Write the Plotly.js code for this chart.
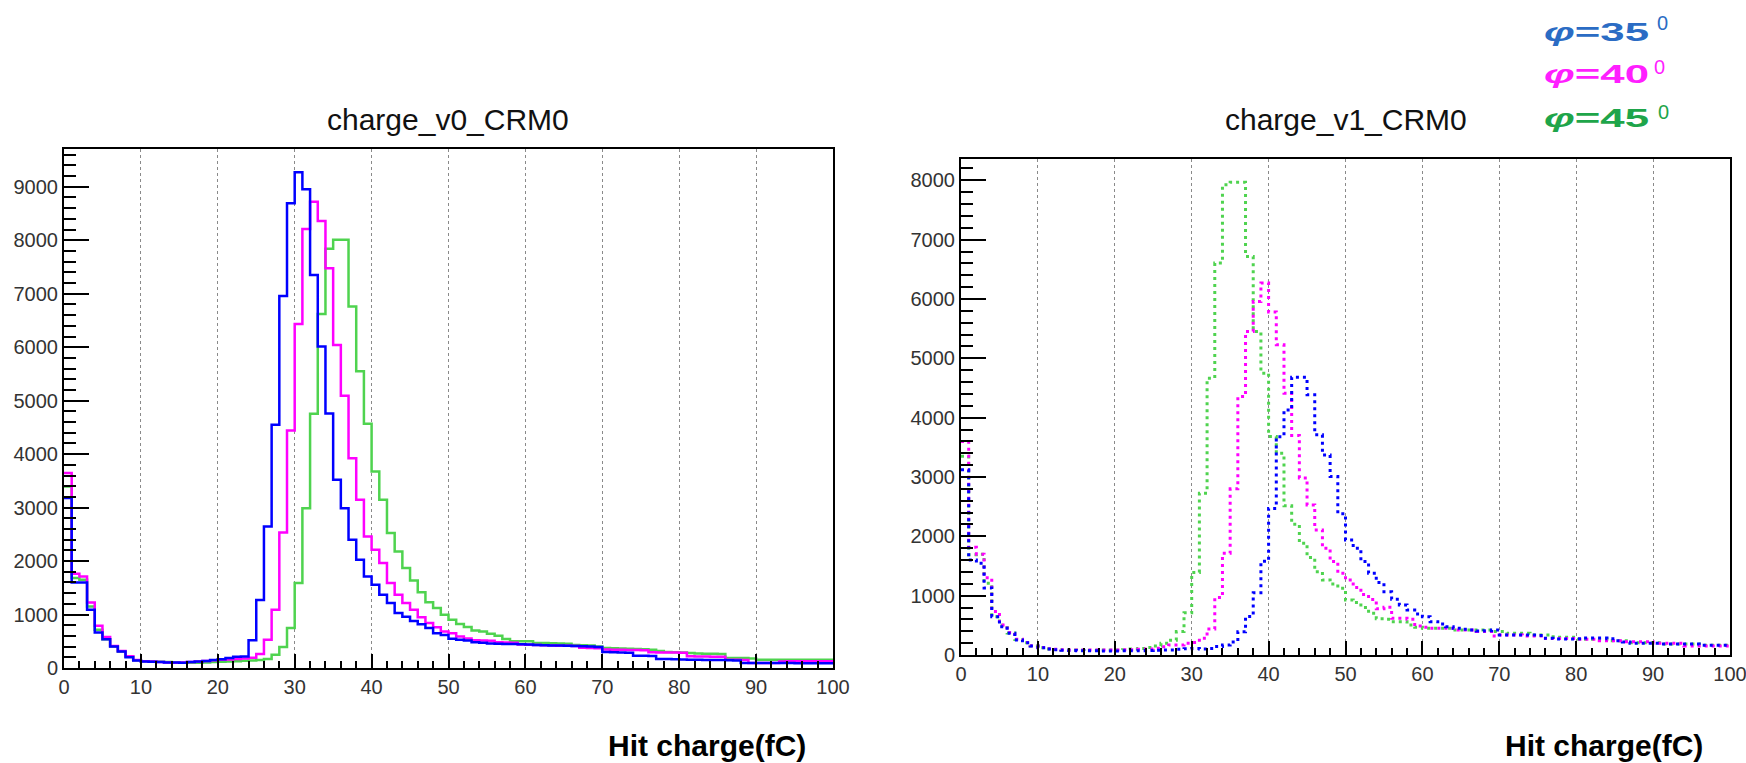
<!DOCTYPE html>
<html>
<head>
<meta charset="utf-8">
<script src="https://cdn.plot.ly/plotly-3.0.1.min.js"></script>
<style>html,body{margin:0;padding:0;background:#fff;}#chart{width:1746px;height:763px;}</style>
</head>
<body>
<div id="chart"></div>
<script>
// Hit charge histograms, 1 fC bins from 0 to 100 fC
const binLow = 0, binHigh = 100, nBins = 100;
const angleLabels = ['35', '40', '45'];
const degreeMark = '0';

// charge_v0_CRM0 (left panel)
const v0_phi35 = [3180,1600,1600,1090,665,540,400,310,200,140,
 120,115,110,105,105,100,110,120,130,150,
 165,185,210,217,520,1270,2647,4548,6959,8692,
 9271,8953,7351,6011,4760,3520,2990,2398,2024,1712,
 1557,1370,1215,1028,960,880,820,750,650,615,
 545,529,515,480,470,460,455,450,450,445,
 440,430,425,420,420,415,410,405,400,395,
 300,295,290,285,230,230,225,170,168,165,
 160,155,155,150,150,150,145,140,95,95,
 95,95,92,92,92,90,90,90,90,90];
const v0_phi40 = [3645,1762,1712,1226,790,580,410,320,220,150,
 125,120,110,105,100,105,110,120,130,145,
 155,158,168,180,190,260,529,1090,2535,4441,
 6435,8211,8722,8361,7477,6043,5090,3925,3146,2460,
 2211,1963,1589,1370,1215,1090,950,841,760,685,
 650,591,550,520,516,510,480,479,470,440,
 436,430,425,420,418,415,410,380,375,370,
 345,342,340,338,335,330,295,292,290,288,
 285,220,217,215,212,210,155,155,150,95,
 93,93,95,120,124,124,124,124,124,124];
const v0_phi45 = [3394,1682,1650,1151,716,539,400,310,215,145,
 125,120,115,110,105,100,100,100,105,110,
 118,120,125,135,140,150,168,249,393,748,
 1589,2990,4753,6622,7840,8010,8010,6759,5550,4570,
 3675,3146,2523,2180,1870,1635,1415,1230,1120,996,
 903,825,765,700,685,641,604,542,498,498,
 498,467,467,465,460,455,430,425,422,400,
 374,370,365,360,355,350,340,320,300,295,
 292,280,270,267,265,260,187,187,185,180,
 155,155,155,155,155,155,155,155,155,155];

// charge_v1_CRM0 (right panel)
const v1_phi35 = [3120,1600,1546,1130,646,478,366,253,208,152,
 124,101,90,80,75,72,70,70,68,68,
 68,70,70,72,75,82,84,86,95,105,
 110,100,110,145,170,220,390,650,1050,1580,
 2470,3680,4131,4682,4682,4384,3710,3370,3007,2380,
 1939,1799,1574,1377,1220,1068,939,843,759,691,
 646,562,523,478,450,433,422,405,410,422,
 337,337,337,337,337,330,281,270,270,270,
 272,287,287,287,275,242,219,197,197,197,
 197,185,185,185,185,185,163,163,163,163];
const v1_phi40 = [3597,1815,1700,1300,731,506,380,265,210,155,
 125,105,95,88,85,84,84,84,84,84,
 85,88,90,95,100,112,140,169,169,200,
 210,281,440,970,1715,2800,4356,5452,5958,6268,
 5780,5228,4413,3700,2985,2530,2108,1799,1574,1377,
 1265,1138,1018,936,779,804,618,618,601,489,
 466,450,450,450,422,422,422,394,394,320,
 337,337,337,320,320,320,276,276,276,276,
 264,264,264,242,242,242,225,225,225,225,
 197,197,197,197,152,152,152,152,152,152];
const v1_phi45 = [3350,1690,1700,1209,646,500,370,260,205,150,
 122,100,92,85,84,82,82,82,84,84,
 86,90,100,110,125,150,197,248,394,710,
 1390,2726,4666,6605,7926,7966,7966,6717,5452,4750,
 3682,3400,2515,2205,1883,1644,1405,1265,1195,1124,
 927,885,801,703,610,601,562,562,506,466,
 450,450,450,450,422,422,422,422,422,394,
 394,365,365,365,337,337,337,298,298,298,
 264,264,264,264,242,242,242,208,208,208,
 208,185,185,185,185,185,163,163,163,163];

const binWidth = (binHigh - binLow) / nBins;
const edges = [];
for (let i = 0; i <= nBins; i++) edges.push(binLow + i * binWidth);

const colors = {blue: '#0000ff', magenta: '#ff00ff', green: '#4fd34f'};
const legendColors = ['#2b6cc4', '#ff1fff', '#1ea54a'];

function step(values, color, xa, ya, dotted) {
  return {
    type: 'scatter', mode: 'lines', x: edges,
    y: values.concat([values[values.length - 1]]),
    xaxis: xa, yaxis: ya, hoverinfo: 'skip',
    line: {shape: 'hv', color: color, width: dotted ? 3 : 2.5, dash: dotted ? '3px,4px' : 'solid'}
  };
}

const data = [
  step(v0_phi45, colors.green, 'x', 'y', false),
  step(v0_phi40, colors.magenta, 'x', 'y', false),
  step(v0_phi35, colors.blue, 'x', 'y', false),
  step(v1_phi45, colors.green, 'x2', 'y2', true),
  step(v1_phi40, colors.magenta, 'x2', 'y2', true),
  step(v1_phi35, colors.blue, 'x2', 'y2', true)
];

const W = 1746, H = 763;
const FAM = 'Liberation Sans, Arial, sans-serif';
const tickFont = {family: FAM, size: 20, color: '#333'};
function xAxis(domain, anchor) {
  return {
    domain: domain, anchor: anchor, range: [binLow, binHigh], tick0: 0, dtick: 10,
    showline: true, linecolor: '#000', linewidth: 2, mirror: true,
    ticks: 'inside', ticklen: 14, tickwidth: 2, tickcolor: '#000',
    minor: {dtick: 2, ticks: 'inside', ticklen: 7, tickwidth: 2, tickcolor: '#000', showgrid: false},
    showgrid: true, gridcolor: '#8a8a8a', griddash: 'dot', gridwidth: 1,
    zeroline: false, tickfont: tickFont, ticklabeloverflow: 'allow', fixedrange: true
  };
}
function yAxis(domain, anchor, top) {
  return {
    domain: domain, anchor: anchor, range: [0, top], tick0: 0, dtick: 1000,
    showline: true, linecolor: '#000', linewidth: 2, mirror: true,
    ticks: 'inside', ticklen: 25, tickwidth: 2, tickcolor: '#000',
    minor: {dtick: 200, ticks: 'inside', ticklen: 12, tickwidth: 2, tickcolor: '#000', showgrid: false},
    showgrid: false, zeroline: false, tickfont: tickFont, fixedrange: true
  };
}

const ann = [];
function txt(t, x, y, xanchor, font) {
  ann.push({text: t, x: x / W, y: 1 - y / H, xref: 'paper', yref: 'paper',
    xanchor: xanchor, yanchor: 'middle', showarrow: false, font: font});
}
const titleFont = {family: FAM, size: 30, color: '#111'};
const axFont = {family: FAM, size: 30, color: '#000'};
txt('charge_v0_CRM0', 448.5, 120, 'center', titleFont);
txt('charge_v1_CRM0', 1345.5, 120, 'center', titleFont);
txt('<b>Hit charge(fC)</b>', 808, 745, 'right', axFont);
txt('<b>Hit charge(fC)</b>', 1705, 745, 'right', axFont);
const legendY = [32, 74, 118];
const degreeY = [23, 67, 112];
const degreeX = [1662, 1659, 1663];
angleLabels.forEach((a, i) => {
  txt('<b><i>φ</i>=' + a + '</b>', 1542, legendY[i], 'left',
      {family: FAM, size: 26, color: legendColors[i]});
  txt(degreeMark, degreeX[i], degreeY[i], 'center',
      {family: FAM, size: 20, color: legendColors[i]});
});

const layout = {
  width: W, height: H, margin: {l: 0, r: 0, t: 0, b: 0},
  paper_bgcolor: '#fff', plot_bgcolor: '#fff', showlegend: false,
  font: {family: FAM, color: '#333'},
  xaxis: xAxis([64 / W, 833 / W], 'y'),
  yaxis: yAxis([1 - 668 / H, 1 - 149 / H], 'x', 9707),
  xaxis2: xAxis([961 / W, 1730 / W], 'y2'),
  yaxis2: yAxis([1 - 655 / H, 1 - 159 / H], 'x2', 8359),
  annotations: ann
};

Plotly.newPlot('chart', data, layout, {staticPlot: true, displayModeBar: false}).then(function (gd) {
  // the reference legend lettering is drawn horizontally stretched (about 105 px wide)
  gd.querySelectorAll('.annotation-text').forEach(function (t) {
    if (t.textContent.indexOf('φ') === 0) {
      const b = t.getBBox();
      const sx = 105 / b.width;
      t.setAttribute('transform', 'matrix(' + sx + ',0,0,1,' + ((1 - sx) * b.x) + ',0)');
    }
  });
});
</script>
</body>
</html>
